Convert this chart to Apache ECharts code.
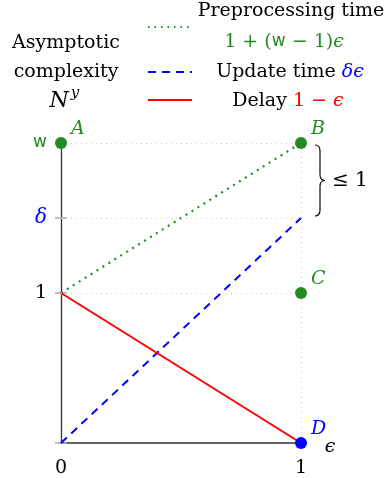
<!DOCTYPE html>
<html>
<head>
<meta charset="utf-8">
<script src="https://cdn.jsdelivr.net/npm/echarts@6/dist/echarts.min.js"></script>
<style>
  html, body { margin: 0; padding: 0; background: #fff; }
  #chart { width: 386px; height: 478px; }
</style>
</head>
<body>
<div id="chart"></div>
<script>
// values (w = 2, delta = 1.5)
var xTicks = [0, 1];
var yTicks = [0, 1, 1.5, 2];
var yLabels = ['', '{n|1}', '{d|δ}', '{w|w}'];
var preprocessing = [[0, 1], [1, 2]];
var update = [[0, 0], [1, 1.5]];
var delay = [[0, 1], [1, 0]];
var points = [
    { name: 'A', value: [0, 2], color: '#228b22' },
    { name: 'B', value: [1, 2], color: '#228b22' },
    { name: 'C', value: [1, 1], color: '#228b22' },
    { name: 'D', value: [1, 0], color: '#0000ff' }
];
var gridLinesY = [1, 1.5, 2];
var gridLinesX = [1];

var green = '#228b22';
var serif = '"DejaVu Serif", "Liberation Serif", serif';
var sans = '"DejaVu Sans", sans-serif';

var chart = echarts.init(document.getElementById('chart'));

var option = {
    animation: false,
    grid: { left: 61, right: 85, top: 143, bottom: 35 },
    xAxis: {
        type: 'value',
        min: 0,
        max: 1,
        interval: 1,
        axisLine: { lineStyle: { color: '#666', width: 2 } },
        axisTick: { show: false },
        axisLabel: { fontFamily: serif, fontSize: 19, color: '#000', margin: 16 },
        splitLine: { show: false }
    },
    yAxis: [
        {
            type: 'value',
            min: 0,
            max: 2,
            interval: 0.5,
            axisLine: { show: true, onZero: false, lineStyle: { color: '#333', width: 1.3 } },
            axisTick: { show: true, customValues: yTicks, length: 6, lineStyle: { color: '#aaa', width: 1.5 } },
            axisLabel: {
                customValues: [1, 1.5, 2],
                margin: 14,
                formatter: function (v) {
                    return yLabels[yTicks.indexOf(v)];
                },
                rich: {
                    n: { fontFamily: serif, fontSize: 19, color: '#000' },
                    d: { fontFamily: serif, fontStyle: 'italic', fontSize: 20, color: '#0000ff' },
                    w: { fontFamily: sans, fontSize: 17, color: green }
                }
            },
            splitLine: { show: false }
        },
        {
            // inner half of the crossing ticks
            type: 'value',
            position: 'left',
            min: 0,
            max: 2,
            interval: 0.5,
            axisLine: { show: false },
            axisTick: { show: true, inside: true, customValues: yTicks, length: 6, lineStyle: { color: '#aaa', width: 1.5 } },
            axisLabel: { show: false },
            splitLine: { show: false }
        }
    ],
    series: [
        {
            type: 'line',
            data: [],
            silent: true,
            markLine: {
                silent: true,
                symbol: 'none',
                label: { show: false },
                lineStyle: { color: '#ccc', type: [1, 4], width: 1.2 },
                data: gridLinesY.map(function (v) { return { yAxis: v }; })
                    .concat(gridLinesX.map(function (v) { return { xAxis: v }; }))
            }
        },
        {
            name: 'Preprocessing time',
            type: 'line',
            data: preprocessing,
            symbol: 'none',
            lineStyle: { color: green, width: 2.2, type: [2, 5] },
            z: 3
        },
        {
            name: 'Update time',
            type: 'line',
            data: update,
            symbol: 'none',
            lineStyle: { color: '#0000ff', width: 2, type: [8, 6] },
            z: 3
        },
        {
            name: 'Delay',
            type: 'line',
            data: delay,
            symbol: 'none',
            lineStyle: { color: '#ff0000', width: 2 },
            z: 3
        },
        {
            type: 'scatter',
            symbolSize: 12,
            z: 5,
            data: points.map(function (p) {
                return {
                    name: p.name,
                    value: p.value,
                    itemStyle: { color: p.color, opacity: 1 },
                    label: { color: p.color }
                };
            }),
            label: {
                show: true,
                formatter: '{b}',
                position: 'right',
                offset: [0, -14],
                distance: 4,
                fontFamily: serif,
                fontStyle: 'italic',
                fontSize: 19
            }
        }
    ]
};
chart.setOption(option);

// brace between w and delta, axis name, and legend block at the top
var pTop = chart.convertToPixel({ gridIndex: 0 }, [1, 2]);
var pBot = chart.convertToPixel({ gridIndex: 0 }, [1, 1.5]);
var pEnd = chart.convertToPixel({ gridIndex: 0 }, [1, 0]);
var x0 = pTop[0] + 14, yT = pTop[1] + 2, yB = pBot[1] - 2, ym = (yT + yB) / 2;
var bs = { stroke: '#000', lineWidth: 1.2, fill: null };
var curve = function (x1, y1, cx, cy, x2, y2) {
    return { type: 'bezierCurve', shape: { x1: x1, y1: y1, cpx1: cx, cpy1: cy, x2: x2, y2: y2 }, style: bs };
};
var straight = function (x1, y1, x2, y2) {
    return { type: 'line', shape: { x1: x1, y1: y1, x2: x2, y2: y2 }, style: bs };
};

var txt = function (x, y, s, extra) {
    var style = { x: x, y: y, text: s, fontFamily: serif, fontSize: 19, fill: '#000', align: 'center', verticalAlign: 'middle' };
    for (var k in extra) style[k] = extra[k];
    return { type: 'text', style: style };
};
var seg = function (y, color, dash) {
    return { type: 'line', shape: { x1: 148, y1: y, x2: 192, y2: y }, style: { stroke: color, lineWidth: 2, lineDash: dash } };
};

chart.setOption({
    graphic: [
        txt(pEnd[0] + 29, pEnd[1] + 4, 'ϵ', { fontStyle: 'italic' }),
        curve(x0, yT, x0 + 5, yT, x0 + 5, yT + 6),
        straight(x0 + 5, yT + 6, x0 + 5, ym - 6),
        curve(x0 + 5, ym - 6, x0 + 5, ym, x0 + 10, ym),
        curve(x0 + 10, ym, x0 + 5, ym, x0 + 5, ym + 6),
        straight(x0 + 5, ym + 6, x0 + 5, yB - 6),
        curve(x0 + 5, yB - 6, x0 + 5, yB, x0, yB),
        txt(x0 + 17, ym, '≤ 1', { align: 'left', fontSize: 20 }),
        txt(66, 43, 'Asymptotic'),
        txt(66, 72, 'complexity'),
        txt(59, 101, 'N', { fontStyle: 'italic', fontSize: 22 }),
        txt(75, 93, 'y', { fontStyle: 'italic', fontSize: 15 }),
        seg(27, green, [1.5, 5]),
        seg(72, '#0000ff', [8, 6]),
        seg(100, '#ff0000', null),
        txt(291, 11, 'Preprocessing time'),
        {
            type: 'text',
            style: {
                x: 284, y: 42, align: 'center', verticalAlign: 'middle',
                text: '{a|1 + (}{b|w}{a| − 1)}{c|ϵ}',
                rich: {
                    a: { fontFamily: serif, fontSize: 19, fill: green },
                    b: { fontFamily: sans, fontSize: 17, fill: green },
                    c: { fontFamily: serif, fontStyle: 'italic', fontSize: 19, fill: green }
                }
            }
        },
        {
            type: 'text',
            style: {
                x: 290, y: 72, align: 'center', verticalAlign: 'middle',
                text: '{a|Update time }{c|δϵ}',
                rich: {
                    a: { fontFamily: serif, fontSize: 19, fill: '#000' },
                    c: { fontFamily: serif, fontStyle: 'italic', fontSize: 19, fill: '#0000ff' }
                }
            }
        },
        {
            type: 'text',
            style: {
                x: 288, y: 101, align: 'center', verticalAlign: 'middle',
                text: '{a|Delay }{b|1 − }{c|ϵ}',
                rich: {
                    a: { fontFamily: serif, fontSize: 19, fill: '#000' },
                    b: { fontFamily: serif, fontSize: 19, fill: '#ff0000' },
                    c: { fontFamily: serif, fontStyle: 'italic', fontSize: 19, fill: '#ff0000' }
                }
            }
        }
    ]
});
</script>
</body>
</html>
